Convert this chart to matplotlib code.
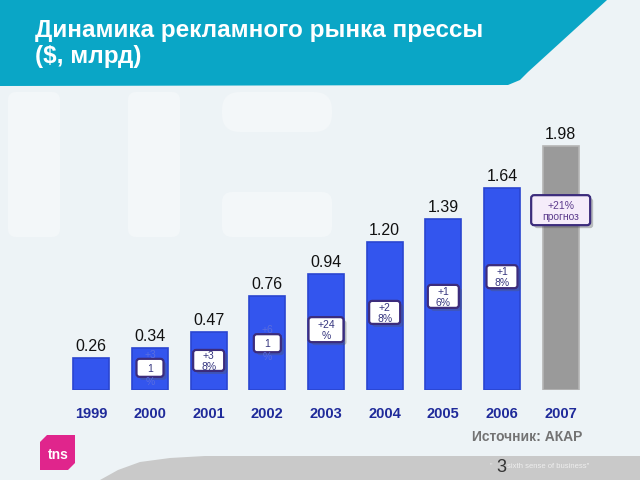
import matplotlib.pyplot as plt
from matplotlib.patches import FancyBboxPatch, Polygon

years = ['1999', '2000', '2001', '2002', '2003', '2004', '2005', '2006', '2007']
values = [0.26, 0.34, 0.47, 0.76, 0.94, 1.20, 1.39, 1.64, 1.98]
value_labels = ['0.26', '0.34', '0.47', '0.76', '0.94', '1.20', '1.39', '1.64', '1.98']
# growth badges, wrapped as on the slide ('' = no badge)
growth = ['', '+3\n1\n%', '+3\n8%', '+6\n1\n%', '+24\n%', '+2\n8%', '+1\n6%', '+1\n8%', '+21%\nпрогноз']
forecast = [False] * 8 + [True]

# badge centres (data y) and sizes in pixels
badge_y = [0, 0.18, 0.24, 0.38, 0.49, 0.63, 0.76, 0.92, 1.46]
badge_w = [0, 27, 31, 27, 35, 31, 31, 31, 59]
badge_h = [0, 18, 21, 18, 25, 23, 23, 23, 30]

plt.rcParams['font.family'] = ['Liberation Sans', 'DejaVu Sans']

fig = plt.figure(figsize=(6.4, 4.8), dpi=100)
fig.patch.set_facecolor('#edf3f6')

# background decoration in pixel coordinates
bg = fig.add_axes([0, 0, 1, 1], zorder=0)
bg.set_xlim(0, 640)
bg.set_ylim(480, 0)
bg.axis('off')

# faint "tns" watermark
wm = '#f3f7f9'
for x0 in (8, 128):
    bg.add_patch(FancyBboxPatch((x0, 92), 52, 145, boxstyle='round,pad=0,rounding_size=8',
                                fc=wm, ec='none'))
bg.add_patch(FancyBboxPatch((222, 192), 110, 45, boxstyle='round,pad=0,rounding_size=10',
                            fc=wm, ec='none'))
bg.add_patch(FancyBboxPatch((222, 92), 110, 40, boxstyle='round,pad=0,rounding_size=18',
                            fc=wm, ec='none'))

# header band
header = Polygon([(0, 0), (607, 0), (528, 72), (520, 80), (508, 85), (0, 86)],
                 closed=True, fc='#0aa6c6', ec='none')
bg.add_patch(header)
bg.text(35, 30, 'Динамика рекламного рынка прессы', color='white', fontsize=17.5,
        fontweight='bold', va='center', ha='left')
bg.text(35, 57, '($, млрд)', color='white', fontsize=17.5, fontweight='bold',
        va='center', ha='left')

# bottom grey swoosh
swoosh = Polygon([(100, 480), (118, 470), (140, 462), (170, 458), (205, 456),
                  (640, 456), (640, 480)], closed=True, fc='#c9c9c9', ec='none')
bg.add_patch(swoosh)

# tns logo
logo = Polygon([(47, 435), (75, 435), (75, 463), (68, 470), (40, 470), (40, 442)],
               closed=True, fc='#e0258c', ec='none')
bg.add_patch(logo)
bg.text(58, 455, 'tns', color='white', fontsize=10, fontweight='bold', ha='center', va='center')

bg.text(582, 437, 'Источник: АКАР', color='#737373', fontsize=10, fontweight='bold',
        ha='right', va='center')
bg.text(501, 467, '3', color='#333333', fontsize=13, ha='center', va='center')
bg.text(490, 466, '"', color='#eeeeee', fontsize=5, ha='left', va='center')
bg.text(507, 466, 'sixth sense of business"', color='#eeeeee', fontsize=5.5,
        ha='left', va='center')

# chart
ax = fig.add_axes([62 / 640, 90 / 480, 528 / 640, 271 / 480], zorder=1)
ax.patch.set_alpha(0)
x = list(range(len(years)))
colors = ['#9a9a9a' if f else '#3355ee' for f in forecast]
edges = ['#b5b5b5' if f else '#2a45d0' for f in forecast]
ax.bar(x, values, width=0.61, color=colors, edgecolor=edges, linewidth=1.2)
for i, (v, lab) in enumerate(zip(values, value_labels)):
    ax.annotate(lab, (i, v), xytext=(0, 3), textcoords='offset points',
                ha='center', va='bottom', fontsize=11.5, color='#111111')
ax.set_xlim(-0.5, len(years) - 0.5)
ax.set_ylim(0, 2.2)
ax.set_xticks(x)
ax.set_xticklabels(years, color='#1f2a9a', fontsize=10.5, fontweight='bold')
ax.tick_params(axis='x', length=0, pad=12)
ax.set_yticks([])
for s in ax.spines.values():
    s.set_visible(False)

# growth badges on an overlay in pixel coordinates
fg = fig.add_axes([0, 0, 1, 1], zorder=2)
fg.set_xlim(0, 640)
fg.set_ylim(480, 0)
fg.axis('off')
fig.canvas.draw()
for i, g in enumerate(growth):
    if not g:
        continue
    px, py = fg.transData.inverted().transform(ax.transData.transform((i, badge_y[i])))
    w, h = badge_w[i], badge_h[i]
    fill = '#f5ecfa' if forecast[i] else 'white'
    tcol = '#5b3b8c' if forecast[i] else '#35357f'
    fg.add_patch(FancyBboxPatch((px - w / 2 + 3, py - h / 2 + 3), w, h,
                                boxstyle='round,pad=0,rounding_size=3',
                                fc='#555555', ec='none', alpha=0.35))
    fg.add_patch(FancyBboxPatch((px - w / 2, py - h / 2), w, h,
                                boxstyle='round,pad=0,rounding_size=3',
                                fc=fill, ec='#3c2c7c', lw=1.6))
    lines = g.split('\n')
    if len(lines) == 3:
        # only the middle line fits in the box
        fg.text(px, py - 13, lines[0], color='#5a6de0', fontsize=7.5, ha='center', va='center')
        fg.text(px, py + 1, lines[1], color=tcol, fontsize=7.5,
                ha='center', va='center')
        fg.text(px, py + 14, lines[2], color='#5a6de0', fontsize=7.5, ha='center', va='center')
    else:
        fg.text(px, py + 1, g, color=tcol, fontsize=7.5,
                ha='center', va='center', linespacing=1.1)

fig.savefig('out.png', dpi=100)
